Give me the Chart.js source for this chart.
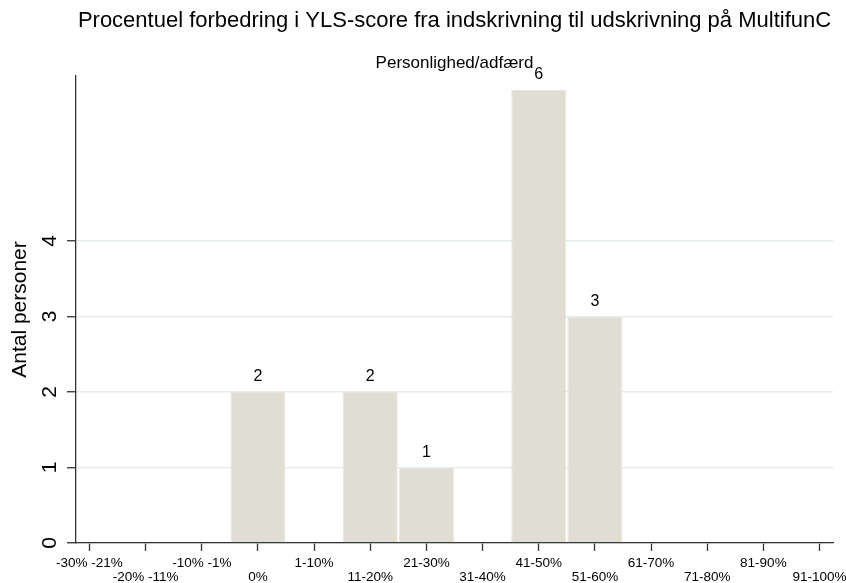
<!DOCTYPE html>
<html>
<head>
<meta charset="utf-8">
<script src="https://cdn.jsdelivr.net/npm/chart.js@4/dist/chart.umd.min.js"></script>
<style>
  html, body { margin: 0; padding: 0; background: #ffffff; }
  #wrap { width: 846px; height: 583px; }
</style>
</head>
<body>
<div id="wrap"><canvas id="c" width="846" height="583"></canvas></div>
<script>
// ---- data ----
const categories = ["-30% -21%", "-20% -11%", "-10% -1%", "0%", "1-10%", "11-20%", "21-30%",
                    "31-40%", "41-50%", "51-60%", "61-70%", "71-80%", "81-90%", "91-100%"];
const counts = [0, 0, 0, 2, 0, 2, 1, 0, 6, 3, 0, 0, 0, 0];
const yTickValues = [0, 1, 2, 3, 4];
const titleText = "Procentuel forbedring i YLS-score fra indskrivning til udskrivning på MultifunC";
const subtitleText = "Personlighed/adfærd";
const yAxisTitle = "Antal personer";

const FONT = "'Liberation Sans', Arial, Helvetica, sans-serif";
const points = counts.map((v, i) => ({ x: i + 1, y: v }));

const titlePlugin = {
  id: 'stataTitles',
  afterDraw(chart) {
    const ctx = chart.ctx;
    const ca = chart.chartArea;
    const cx = (ca.left + ca.right) / 2;
    ctx.save();
    ctx.fillStyle = '#000000';
    ctx.textAlign = 'center';
    ctx.textBaseline = 'middle';
    ctx.font = '22px ' + FONT;
    ctx.fillText(titleText, cx, 21);
    ctx.font = '17px ' + FONT;
    ctx.fillText(subtitleText, cx, 63);
    ctx.restore();
  }
};

const valueLabelPlugin = {
  id: 'valueLabels',
  afterDatasetsDraw(chart) {
    const ctx = chart.ctx;
    const meta = chart.getDatasetMeta(0);
    ctx.save();
    ctx.fillStyle = '#000000';
    ctx.textAlign = 'center';
    ctx.textBaseline = 'middle';
    ctx.font = '16px ' + FONT;
    meta.data.forEach((bar, i) => {
      const v = counts[i];
      if (v > 0) ctx.fillText(String(v), bar.x, bar.y - 15);
    });
    ctx.restore();
  }
};

new Chart(document.getElementById('c'), {
  type: 'bar',
  data: {
    datasets: [{
      data: points,
      backgroundColor: '#e0ddd3',
      borderColor: '#e9e6df',
      borderWidth: 1,
      categoryPercentage: 1.0,
      barPercentage: 0.98
    }]
  },
  options: {
    responsive: false,
    animation: false,
    events: [],
    layout: { padding: { top: 76, right: 13, left: 0, bottom: 0 } },
    plugins: {
      legend: { display: false },
      tooltip: { enabled: false },
      title: { display: false }
    },
    scales: {
      x: {
        type: 'linear',
        offset: false,
        min: 0.76,
        max: 14.24,
        afterBuildTicks(scale) {
          scale.ticks = categories.map((c, i) => ({ value: i + 1 }));
        },
        afterFit(scale) {
          scale.height = 40;
          scale.paddingLeft = 0;
          scale.paddingRight = 0;
        },
        ticks: {
          autoSkip: false,
          minRotation: 0,
          maxRotation: 0,
          padding: 5,
          color: '#000000',
          font: { family: FONT, size: 13.5, lineHeight: 1.06 },
          callback(value, index) {
            const lbl = categories[index];
            return index % 2 === 0 ? [lbl] : ['', lbl];
          }
        },
        grid: {
          display: true,
          offset: false,
          drawOnChartArea: false,
          drawTicks: true,
          tickLength: 8,
          tickColor: '#333333',
          tickWidth: 1.3
        },
        border: { display: true, color: '#333333', width: 1.3 }
      },
      y: {
        type: 'linear',
        min: 0,
        max: 6.185,
        afterBuildTicks(scale) {
          scale.ticks = yTickValues.map(v => ({ value: v }));
        },
        afterFit(scale) {
          scale.width = 76;
          scale.paddingTop = 0;
          scale.paddingBottom = 0;
        },
        ticks: {
          autoSkip: false,
          minRotation: 90,
          maxRotation: 90,
          crossAlign: 'center',
          padding: 11,
          color: '#000000',
          font: { family: FONT, size: 21 },
          callback(value) { return String(value); }
        },
        grid: {
          display: true,
          drawOnChartArea: true,
          drawTicks: true,
          color: '#e4ecef',
          lineWidth: 1.5,
          tickLength: 9,
          tickColor: '#333333',
          tickWidth: 1.3
        },
        border: { display: true, color: '#333333', width: 1.3 },
        title: {
          display: true,
          text: yAxisTitle,
          color: '#000000',
          font: { family: FONT, size: 21 },
          padding: { top: 7.5, bottom: 0 }
        }
      }
    }
  },
  plugins: [titlePlugin, valueLabelPlugin]
});
</script>
</body>
</html>
